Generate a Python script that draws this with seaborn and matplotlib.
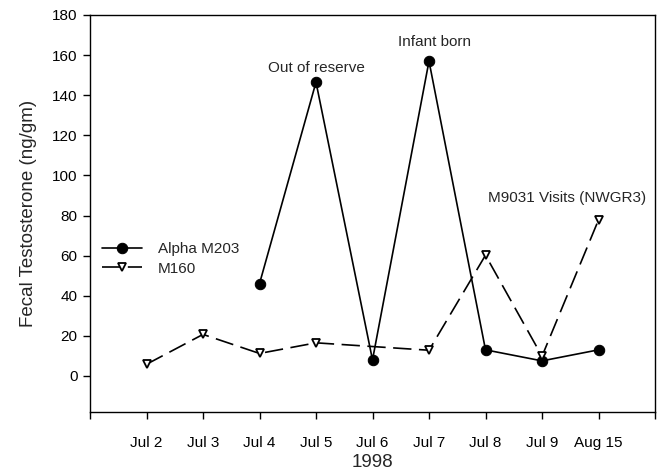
import matplotlib
matplotlib.use("Agg")
import matplotlib.pyplot as plt
import seaborn as sns
import pandas as pd

# ---- data ----
dates = ["Jul 2", "Jul 3", "Jul 4", "Jul 5", "Jul 6", "Jul 7", "Jul 8", "Jul 9", "Aug 15"]

alpha_dates = ["Jul 4", "Jul 5", "Jul 6", "Jul 7", "Jul 8", "Jul 9", "Aug 15"]
alpha_values = [46, 146.5, 8, 157, 13, 7.5, 13]

m160_dates = ["Jul 2", "Jul 3", "Jul 4", "Jul 5", "Jul 7", "Jul 8", "Jul 9", "Aug 15"]
m160_values = [5.8, 20.7, 11.2, 16.5, 12.8, 60.2, 9.8, 77.8]

annotations = ["Out of reserve", "Infant born", "M9031 Visits (NWGR3)"]

sns.set_theme(style="ticks")
plt.rcParams["font.family"] = ["Liberation Sans", "DejaVu Sans"]

pos = {d: i + 1 for i, d in enumerate(dates)}
df_a = pd.DataFrame({"x": [pos[d] for d in alpha_dates], "y": alpha_values})
df_m = pd.DataFrame({"x": [pos[d] for d in m160_dates], "y": m160_values})

fig = plt.figure(figsize=(6.63, 4.76), dpi=100)
ax = fig.add_axes([90 / 663, 1 - 412 / 476, 565 / 663, 397 / 476])

sns.lineplot(data=df_a, x="x", y="y", ax=ax, color="black", linewidth=1.2,
             marker="o", markersize=7.5, markeredgecolor="black",
             markerfacecolor="black", label="Alpha M203")
sns.lineplot(data=df_m, x="x", y="y", ax=ax, color="black", linewidth=1.2,
             marker="v", markersize=6.2, markeredgecolor="black",
             markerfacecolor="white", markeredgewidth=1.3, label="M160")
ax.lines[1].set_dashes([11, 4.5])

ax.set_xlim(0, 10)
ax.set_ylim(-18, 180)
ax.set_xticks(range(0, 11))
ax.set_xticklabels([""] + dates + [""])
ax.set_yticks(range(0, 181, 20))
for s in ax.spines.values():
    s.set_linewidth(1.0)
    s.set_color("black")
ax.tick_params(axis="x", direction="out", length=5, width=1, pad=12, labelsize=11, colors="black")
ax.tick_params(axis="y", direction="out", length=5, width=1, pad=4, labelsize=11, colors="black")

ax.set_xlabel("1998", fontsize=13.5, labelpad=3)
ax.set_ylabel("Fecal Testosterone (ng/gm)", fontsize=13.5, labelpad=11)

ax.text(pos["Jul 5"], 150, annotations[0], ha="center", va="bottom", fontsize=11)
ax.text(6.09, 163, annotations[1], ha="center", va="bottom", fontsize=11)
ax.text(8.44, 85, annotations[2], ha="center", va="bottom", fontsize=11)

leg = ax.legend(loc="center left", bbox_to_anchor=(0.022, 0.385), frameon=False,
                fontsize=11, handlelength=2.6, handletextpad=1.05,
                borderaxespad=0, borderpad=0, labelspacing=0.35)

fig.savefig("out.png", dpi=100)
